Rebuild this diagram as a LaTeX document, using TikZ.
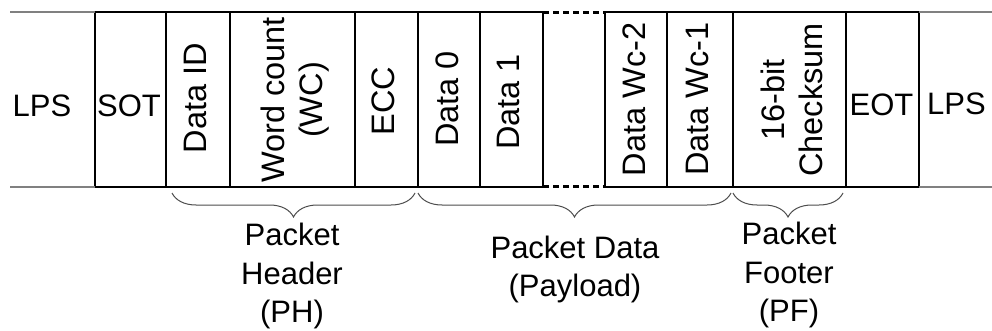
\documentclass[tikz,border=0pt]{standalone}
\usepackage{fontspec}
\setmainfont{Liberation Sans}
\usetikzlibrary{decorations.pathreplacing}
\begin{document}
\begin{tikzpicture}[x=1pt,y=-1pt,
  cell/.style={draw=black, line width=2pt, inner sep=0pt, outer sep=0pt, minimum height=174pt},
  hlbl/.style={font=\fontsize{31}{38}\selectfont, inner sep=0pt, outer sep=0pt},
  vlbl/.style={font=\fontsize{32.5}{38}\selectfont, inner sep=0pt, outer sep=0pt, rotate=90, align=center},
  grplbl/.style={font=\fontsize{31}{38.5}\selectfont, inner sep=0pt, outer sep=0pt, align=center, anchor=north},
  grayline/.style={draw=black!50, line width=2pt},
  gapline/.style={draw=black, line width=3pt, dash pattern=on 6pt off 4pt},
  bracegrp/.style={draw=black!70, line width=1pt, decorate, decoration={brace, mirror, amplitude=24pt}}
]
\useasboundingbox (0,0) rectangle (992,331);

% boxes
\node[cell, minimum width=71pt]  (sot) at (130.5,99.5) {};
\node[cell, minimum width=64pt]  (did) at (198,99.5) {};
\node[cell, minimum width=125pt] (wcb) at (292.5,99.5) {};
\node[cell, minimum width=63pt]  (ecc) at (386.5,99.5) {};
\node[cell, minimum width=62pt]  (d0)  at (449,99.5) {};
\node[cell, minimum width=63pt]  (d1)  at (511.5,99.5) {};
\node[cell, minimum width=62pt]  (wc2) at (636,99.5) {};
\node[cell, minimum width=66pt]  (wc1) at (700,99.5) {};
\node[cell, minimum width=113pt] (cs)  at (789.5,99.5) {};
\node[cell, minimum width=73pt]  (eot) at (882.5,99.5) {};

% LPS lines
\coordinate (ltl) at (10,12.5);
\coordinate (lbl) at (10,186.5);
\coordinate (rtl) at (992,12.5);
\coordinate (rbl) at (992,186.5);
\draw[grayline] (ltl) -- (sot.north west);
\draw[grayline] (lbl) -- (sot.south west);
\draw[grayline] (eot.north east) -- (rtl);
\draw[grayline] (eot.south east) -- (rbl);

% dashed gap
\draw[gapline] (d1.north east) -- (wc2.north west);
\draw[gapline] (d1.south east) -- (wc2.south west);

% horizontal labels
\node[hlbl] (lpsL) at (42,106) {LPS};
\node[hlbl] (sotT) at (129,106) {SOT};
\node[hlbl] (eotT) at (881.5,105) {EOT};
\node[hlbl] (lpsR) at (956.5,104) {LPS};

% vertical labels
\node[vlbl] (didT) at (195,98) {Data ID};
\node[vlbl] (wcT)  at (295,100) {Word count\\(WC)};
\node[vlbl] (eccT) at (383.5,101) {ECC};
\node[vlbl] (d0T)  at (447,99) {Data 0};
\node[vlbl] (d1T)  at (508.5,102) {Data 1};
\node[vlbl] (wc2T) at (634,99.5) {Data Wc-2};
\node[vlbl] (wc1T) at (697.5,99) {Data Wc-1};
\node[vlbl] (csT)  at (792,100) {16-bit\\Checksum};

% braces
\coordinate (phl) at (172,193);
\coordinate (phr) at (415,193);
\coordinate (pdl) at (418,193);
\coordinate (pdr) at (731,193);
\coordinate (pfl) at (733,193);
\coordinate (pfr) at (843,193);
\draw[bracegrp] (phl) -- (phr);
\draw[bracegrp] (pdl) -- (pdr);
\draw[bracegrp] (pfl) -- (pfr);

% group labels
\node[grplbl] (ph) at (292,223.5) {Packet\\Header\\(PH)};
\node[grplbl] (pd) at (575,236) {Packet Data\\(Payload)};
\node[grplbl] (pf) at (789,222.5) {Packet\\Footer\\(PF)};
\end{tikzpicture}
\end{document}
